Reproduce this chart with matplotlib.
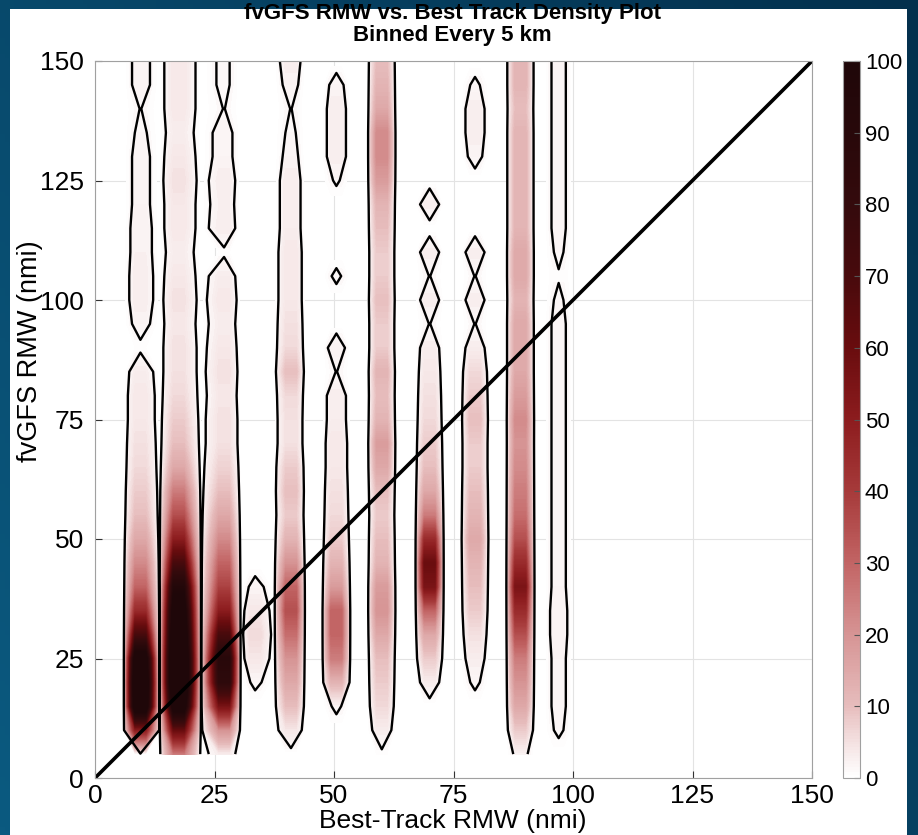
import numpy as np
import matplotlib
matplotlib.use('Agg')
import matplotlib.pyplot as plt
from matplotlib.colors import LinearSegmentedColormap, Normalize
from matplotlib.cm import ScalarMappable

# fvGFS RMW bins (nmi), rows of the density grid
rmw_rows = np.arange(5, 151, 5)

# best-track RMW columns (nmi) that hold data, and empty columns between them
col_centers = [9.5, 17.5, 27, 33.5, 41, 50.5, 60, 70, 79.5, 89, 97]
empty_cols = [6, 13.5, 22.2, 30.5, 37.5, 44, 47.5, 53.5, 57, 63, 67, 73,
              76.5, 82.5, 86, 92, 94, 100]
band = 1.1  # shading is drawn as a flat band this wide either side of a column

# density read along each column, y = 5 ... 150 nmi
col_10 = [0, 50, 115, 120, 110, 70, 45, 30, 22, 15, 10, 8, 6, 5, 4, 4, 3, 0.5,
          2, 3, 3, 2.5, 2.5, 2, 2, 2, 1.5, 1.05, 2, 2]
col_18 = [25, 60, 110, 130, 130, 120, 110, 95, 70, 50, 35, 25, 15, 10, 8, 6, 5,
          5, 4, 5, 4, 3, 4, 4, 5, 4, 3, 4, 4, 4]
col_27 = [3, 20, 55, 85, 90, 70, 50, 38, 30, 22, 15, 10, 7, 5, 5, 4, 5, 4, 3,
          4, 3, 0.5, 3, 2.5, 3, 2, 2, 1.05, 1.5, 1.5]
col_34 = [0, 0, 0, 1.5, 4, 6, 4, 1.8, 0, 0, 0, 0, 0, 0, 0, 0, 0, 0, 0, 0, 0,
          0, 0, 0, 0, 0, 0, 0, 0, 0]
col_42 = [0, 4, 10, 15, 20, 28, 35, 30, 20, 12, 8, 10, 8, 5, 5, 6, 10, 6, 5, 4,
          4, 4, 3, 3, 3, 2, 1.5, 1.05, 2, 3]
col_51 = [0, 0, 1.5, 12, 25, 30, 30, 18, 12, 8, 6, 5, 4, 4, 3, 3, 1.05, 2.5,
          0, 0, 1.5, 0, 0, 0, 1.3, 3, 3, 3, 2, 0]
col_60 = [0.5, 3, 6, 8, 10, 15, 20, 18, 12, 10, 8, 10, 15, 18, 12, 10, 12, 8,
          8, 10, 8, 8, 10, 12, 18, 22, 22, 15, 12, 10]
col_70 = [0, 0, 0, 3, 8, 15, 30, 55, 60, 45, 25, 15, 10, 8, 6, 5, 4, 3, 1.05,
          3, 1.05, 3, 0, 3, 0, 0, 0, 0, 0, 0]
col_80 = [0, 0, 0, 1.5, 3, 5, 8, 10, 12, 15, 12, 10, 8, 8, 10, 8, 6, 3, 1.05,
          3, 1.05, 3, 0, 0, 0, 2, 3, 3, 1.5, 0]
col_89 = [2, 8, 15, 20, 25, 35, 45, 55, 45, 35, 28, 25, 22, 20, 22, 18, 15, 15,
          15, 12, 15, 15, 12, 12, 12, 12, 12, 10, 12, 12]
col_98 = [0, 1.5, 2, 2, 2, 2.5, 2.5, 2, 2, 2, 2, 2, 2, 2, 2, 2, 2, 2, 2, 1.5,
          0.8, 1.5, 2, 2, 2, 2, 2, 2, 2, 2]
columns = [col_10, col_18, col_27, col_34, col_42, col_51, col_60, col_70,
           col_80, col_89, col_98]


def build_grid(offsets):
    nodes = [(x, None) for x in empty_cols]
    for c, prof in zip(col_centers, columns):
        for o in offsets:
            nodes.append((c + o, prof))
    nodes.sort(key=lambda n: n[0])
    xs = [n[0] for n in nodes]
    Z = np.zeros((len(rmw_rows), len(xs)))
    for j, (x, prof) in enumerate(nodes):
        if prof is not None:
            Z[:, j] = prof
    return xs, Z


xs_fill, Z_fill = build_grid([-band, band])   # for the shading
xs_line, Z_line = build_grid([0])             # for the outline contour

cmap = LinearSegmentedColormap.from_list('reds', [
    (0.0, '#ffffff'), (0.05, '#f3e0e0'), (0.1, '#e6bcbc'), (0.2, '#d69494'),
    (0.3, '#c26464'), (0.4, '#a63a3a'), (0.5, '#8c1c1e'), (0.6, '#690c0e'),
    (0.7, '#480a0c'), (0.8, '#340a0c'), (0.9, '#28080a'), (1.0, '#1f0709')])
cmap.set_over('#1f0709')
norm = Normalize(0, 100)

fig = plt.figure(figsize=(9.18, 8.35), dpi=100)

# slide background + white panel
bg = fig.add_axes([0, 0, 1, 1], zorder=-10)
gx, gy = np.meshgrid(np.linspace(0, 1, 200), np.linspace(0, 1, 200))
bgmap = LinearSegmentedColormap.from_list('bg', ['#0b5a80', '#03304d'])
bg.imshow(0.6 * gx + 0.4 * gy, extent=[0, 1, 0, 1], aspect='auto', cmap=bgmap, origin='lower')
bg.add_patch(plt.Rectangle((10 / 918, 0), 897 / 918, 1 - 9 / 835, facecolor='white', edgecolor='none'))
bg.set_xlim(0, 1)
bg.set_ylim(0, 1)
bg.axis('off')

ax = fig.add_axes([95 / 918, 57 / 835, 717 / 918, 717 / 835])
levels = np.linspace(0.5, 100, 200)
ax.contourf(xs_fill, rmw_rows, Z_fill, levels=levels, cmap=cmap, norm=norm, extend='max')
ax.contour(xs_line, rmw_rows, Z_line, levels=[1.0], colors='k', linewidths=1.7)
ax.plot([0, 150], [0, 150], color='k', lw=2.6)

ax.set_xlim(0, 150)
ax.set_ylim(0, 150)
ax.set_xticks(range(0, 151, 25))
ax.set_yticks(range(0, 151, 25))
ax.grid(True, color='#e3e3e3', lw=0.8)
ax.set_axisbelow(True)
ax.tick_params(direction='in', length=5, labelsize=19, color='#333333')
ax.tick_params(axis='y', pad=8)
ax.tick_params(axis='x', pad=4)
for lab in ax.get_xticklabels() + ax.get_yticklabels():
    lab.set_fontfamily('Liberation Sans')
for s in ax.spines.values():
    s.set_color('#a0a0a0')
    s.set_linewidth(0.8)

cax = fig.add_axes([843 / 918, 57 / 835, 17 / 918, 717 / 835])
cb = fig.colorbar(ScalarMappable(norm=norm, cmap=cmap), cax=cax)
cb.set_ticks(range(0, 101, 10))
cb.ax.tick_params(direction='in', length=4, labelsize=16, color='#555555')
for lab in cb.ax.get_yticklabels():
    lab.set_fontfamily('Liberation Sans')
cb.outline.set_edgecolor('#a0a0a0')
cb.outline.set_linewidth(0.8)

fig.text(452 / 918, 1 - 14 / 835, 'fvGFS RMW vs. Best Track Density Plot', ha='center', va='center',
         fontsize=16, fontweight='bold', family='Liberation Sans')
fig.text(452 / 918, 1 - 35 / 835, 'Binned Every 5 km', ha='center', va='center',
         fontsize=16, fontweight='bold', family='Liberation Sans')
fig.text(453 / 918, 1 - 821 / 835, 'Best-Track RMW (nmi)', ha='center', va='center',
         fontsize=19, family='Liberation Sans')
fig.text(30 / 918, 1 - 351 / 835, 'fvGFS RMW (nmi)', ha='center', va='center', rotation=90,
         fontsize=19.5, family='Liberation Sans')

fig.savefig('out.png', dpi=100)
